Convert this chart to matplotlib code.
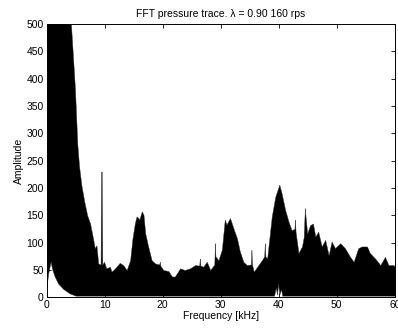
import numpy as np
import matplotlib.pyplot as plt

# Upper envelope of the FFT amplitude (kHz, amplitude)
freq_hi = [0, 3.8, 4.2, 4.9, 5.3, 5.6, 6.0, 6.5, 7.0, 7.5, 8.0, 8.3, 8.6, 8.9,
           9.3, 9.4, 9.5, 9.6, 9.9, 10.3, 10.9, 11.2, 11.8, 12.6, 13.2, 13.8,
           14.4, 14.8, 15.2, 15.5, 16.0, 16.4, 16.7, 17.0, 17.5, 18.1, 18.7,
           19.4, 19.5, 19.6, 20.1, 21.0, 21.6, 22.1, 23.0, 23.8, 24.7, 25.6,
           26.3, 26.4, 26.5, 27.0, 27.6, 28.2, 28.9, 29.0, 29.1, 29.6, 30.2,
           30.7, 31.0, 31.6, 32.2, 32.8, 33.3, 33.9, 34.5, 35.2, 35.3, 35.4,
           35.7, 36.5, 37.1, 37.5, 37.6, 37.7, 38.0, 38.8, 39.4, 40.1, 40.5,
           41.1, 41.7, 42.2, 42.7, 42.8, 42.9, 43.4, 44.0, 44.3, 44.5, 44.6,
           44.9, 45.4, 45.9, 46.3, 46.8, 47.4, 48.0, 48.6, 49.1, 49.7, 50.6,
           51.4, 52.3, 52.9, 53.7, 54.3, 55.2, 55.7, 56.6, 57.5, 58.3, 58.9,
           59.8, 60.0]
amp_hi = [600, 600, 500, 380, 280, 240, 205, 175, 150, 135, 108, 90, 95, 62,
          60, 230, 230, 60, 65, 53, 56, 47, 53, 63, 59, 50,
          68, 108, 135, 148, 143, 157, 151, 117, 93, 68, 62,
          60, 65, 58, 50, 48, 38, 38, 53, 50, 53, 59,
          58, 71, 58, 56, 65, 50, 60, 99, 75, 68, 87,
          142, 133, 145, 126, 108, 84, 65, 59, 60, 87, 60,
          47, 59, 68, 75, 99, 75, 71, 148, 184, 206, 190,
          160, 138, 123, 125, 142, 120, 81, 93, 110, 163, 150,
          117, 132, 135, 111, 120, 93, 105, 77, 102, 90, 99,
          90, 74, 65, 90, 93, 93, 81, 71, 59, 74, 59,
          59, 55]

# Lower envelope (kHz, amplitude)
freq_lo = [0, 0.3, 0.7, 1.0, 1.4, 2.0, 2.9, 4.0, 5.0, 39.2, 39.5, 39.7, 39.9,
           40.1, 40.4, 40.6, 60.0]
amp_lo = [20, 45, 65, 50, 38, 25, 15, 7, 3, 3, 18, 5, 25, 5, 15, 3, 3]

plt.rcParams['font.family'] = ['Liberation Sans', 'DejaVu Sans']
plt.rcParams['font.size'] = 7.5

fig = plt.figure(figsize=(3.98, 3.32), dpi=100)
ax = fig.add_axes([0.117, 0.1045, 0.875, 0.8235])

f = np.linspace(0, 60, 2401)
upper = np.interp(f, freq_hi, amp_hi)
lower = np.interp(f, freq_lo, amp_lo)
ax.fill_between(f, lower, upper, color='black', linewidth=0.3,
                edgecolor='#333333')

ax.set_xlim(0, 60)
ax.set_ylim(0, 500)
ax.set_xticks(range(0, 61, 10))
ax.set_yticks(range(0, 501, 50))
ax.tick_params(direction='in', top=True, right=True, length=3, width=0.6,
               pad=2)
for s in ax.spines.values():
    s.set_linewidth(0.7)

ax.set_title('FFT pressure trace. \u03bb = 0.90 160 rps', fontsize=7.5, pad=5)
ax.set_xlabel('Frequency [kHz]', labelpad=1)
ax.set_ylabel('Amplitude', labelpad=2)

fig.savefig('out.png', dpi=100)
